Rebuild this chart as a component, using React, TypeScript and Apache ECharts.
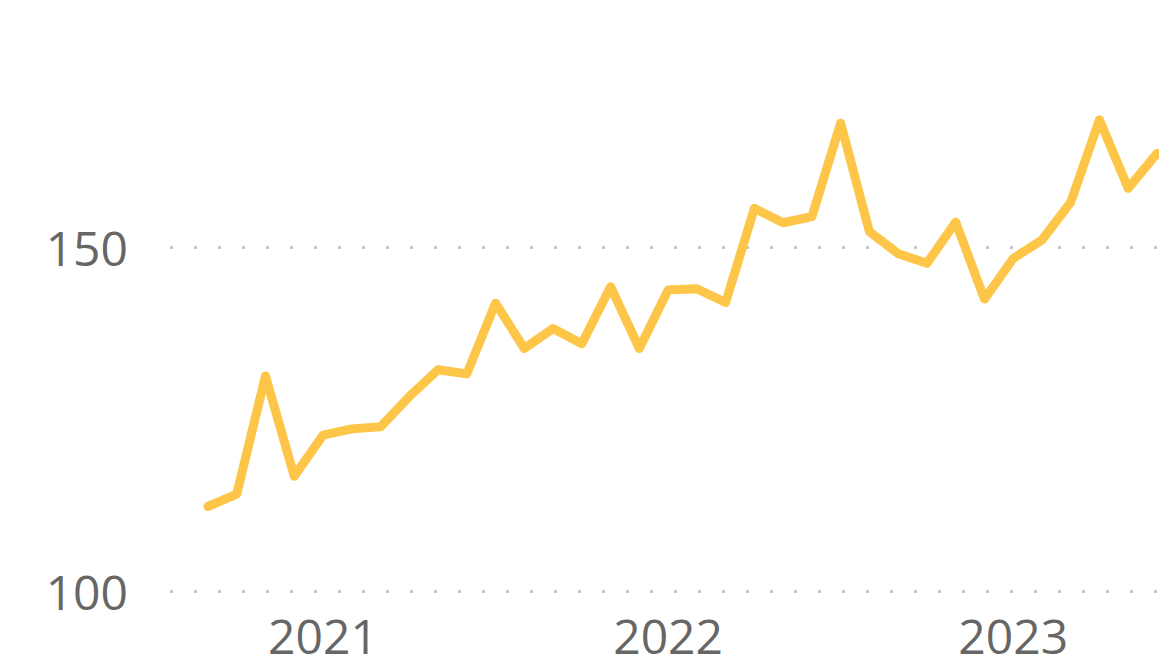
import React, { useEffect, useRef } from "react";
import * as echarts from "echarts";

// Monthly values starting Sep 2020 (index 0)
const monthValues: number[] = [
  112.3, 114.1, 131.3, 116.7, 122.7, 123.6, 123.9, 128.3, 132.2, 131.6,
  141.9, 135.3, 138.2, 136.0, 144.3, 135.3, 143.8, 144.0, 142.0, 155.7,
  153.6, 154.5, 168.1, 152.3, 149.1, 147.7, 153.7, 142.5, 148.4, 151.1,
  156.6, 168.6, 158.6, 163.7,
];

// Year tick labels and their month index (January of each year)
const yearLabels: string[] = ["2021", "2022", "2023"];
const yearIndex: number[] = [4, 16, 28];

// Visible y tick labels (axis runs 100..200, the top lies above the visible area)
const yTicks: number[] = [100, 150];
const yMax = 200;

export default function App() {
  const ref = useRef<HTMLDivElement>(null);

  useEffect(() => {
    document.body.style.margin = "0";
    if (!ref.current) return;
    const chart = echarts.init(ref.current, null, { renderer: "svg" });
    const font = "'Segoe UI', 'Open Sans', sans-serif";
    chart.setOption({
      animation: false,
      backgroundColor: "#ffffff",
      grid: {
        left: 170,
        right: 0,
        top: -96,
        bottom: 68,
        containLabel: false,
        outerBoundsMode: "none",
      },
      xAxis: {
        type: "value",
        min: -1.32,
        max: 33.07,
        axisLine: { show: false },
        axisTick: { show: false },
        splitLine: { show: false },
        axisLabel: {
          customValues: yearIndex,
          formatter: (v: number) => {
            const k = yearIndex.indexOf(Math.round(v));
            return k >= 0 ? yearLabels[k] : "";
          },
          color: "#666666",
          fontSize: 48,
          lineHeight: 40,
          fontFamily: font,
          margin: 24,
        },
      },
      yAxis: {
        type: "value",
        min: yTicks[0],
        max: yMax,
        interval: 50,
        axisLine: { show: false },
        axisTick: { show: false },
        axisLabel: {
          color: "#666666",
          fontSize: 48,
          lineHeight: 40,
          fontFamily: font,
          margin: 42,
          showMaxLabel: false,
          formatter: (v: number) => (yTicks.indexOf(v) >= 0 ? String(v) : ""),
        },
        splitLine: {
          show: true,
          lineStyle: { color: "#c8c8c8", width: 3, type: [3, 21] },
        },
      },
      series: [
        {
          type: "line",
          data: monthValues.map((v, i) => [i, v]),
          showSymbol: false,
          symbol: "none",
          lineStyle: { color: "#FDC649", width: 9, cap: "round", join: "round" },
          itemStyle: { color: "#FDC649" },
        },
      ],
    });
    return () => chart.dispose();
  }, []);

  return <div ref={ref} style={{ width: 1159, height: 659 }} />;
}
